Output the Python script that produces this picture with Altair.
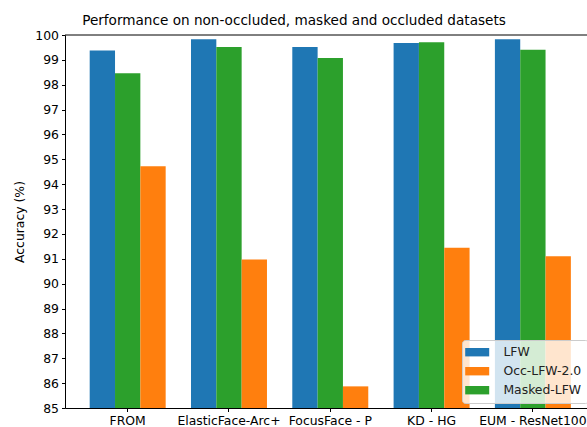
import altair as alt
import pandas as pd

models = ["FROM", "ElasticFace-Arc+", "FocusFace - P", "KD - HG", "EUM - ResNet100"]
lfw = [99.38, 99.83, 99.52, 99.68, 99.83]
masked_lfw = [98.46, 99.52, 99.08, 99.71, 99.41]
occ_lfw = [94.72, 90.97, 85.87, 91.44, 91.10]

series_names = ["LFW", "Occ-LFW-2.0", "Masked-LFW"]
series_colors = ["#1f77b4", "#ff7f0e", "#2ca02c"]
bar_order = ["LFW", "Masked-LFW", "Occ-LFW-2.0"]
y_ticks = list(range(85, 101))

rows = []
for i, m in enumerate(models):
    rows.append({"model": m, "dataset": "LFW", "acc": lfw[i]})
    rows.append({"model": m, "dataset": "Masked-LFW", "acc": masked_lfw[i]})
    rows.append({"model": m, "dataset": "Occ-LFW-2.0", "acc": occ_lfw[i]})
df = pd.DataFrame(rows)

FONT = "DejaVu Sans"

bars = alt.Chart(df).mark_bar(clip=True).encode(
    x=alt.X("model:N", sort=models,
            scale=alt.Scale(paddingInner=0.25, paddingOuter=0.2015, align=0.605),
            axis=alt.Axis(title=None, labelAngle=0, tickSize=3.5, labelPadding=3,
                          domainColor="black", tickColor="black", labelColor="black",
                          labelFont=FONT, labelFontSize=12.4)),
    xOffset=alt.XOffset("dataset:N", sort=bar_order,
                        scale=alt.Scale(paddingInner=0, paddingOuter=0)),
    y=alt.Y("acc:Q", scale=alt.Scale(domain=[85, 100], zero=False, nice=False),
            axis=alt.Axis(title="Accuracy (%)", values=y_ticks, grid=False, tickSize=3.5,
                          labelPadding=3, domainColor="black", tickColor="black",
                          labelColor="black", labelFont=FONT, labelFontSize=12.4,
                          titleFont=FONT, titleFontSize=12.4, titleFontWeight="normal",
                          titleColor="black", titlePadding=8)),
    y2=alt.datum(85),
    color=alt.Color("dataset:N", sort=series_names,
                    scale=alt.Scale(domain=series_names, range=series_colors),
                    legend=alt.Legend(title=None, orient="none", legendX=397, legendY=305,
                                      symbolType="M-2,-0.7H2V0.7H-2Z", symbolSize=144,
                                      symbolStrokeWidth=0, symbolOpacity=1, symbolOffset=3,
                                      labelFont=FONT, labelFontSize=12.4, labelColor="#222",
                                      rowPadding=6, padding=6, labelOffset=20,
                                      fillColor="rgba(255,255,255,0.8)",
                                      strokeColor="#cccccc", cornerRadius=3)),
)

top_line = alt.Chart(pd.DataFrame({"a": [0]})).mark_rule(color="black", strokeWidth=1).encode(
    x=alt.value(0), x2=alt.value(522), y=alt.value(0)
)

chart = alt.layer(bars, top_line).properties(
    width=522, height=373,
    title=alt.TitleParams("Performance on non-occluded, masked and occluded datasets",
                          font=FONT, fontSize=13.6, fontWeight="normal", color="black",
                          anchor="middle", dx=-32, offset=1),
    autosize=alt.AutoSizeParams(type="none"),
    padding={"left": 65, "top": 35, "right": 0, "bottom": 19},
).configure_view(stroke=None)

chart.save("out.html", embed_options={"renderer": "svg", "actions": False})
